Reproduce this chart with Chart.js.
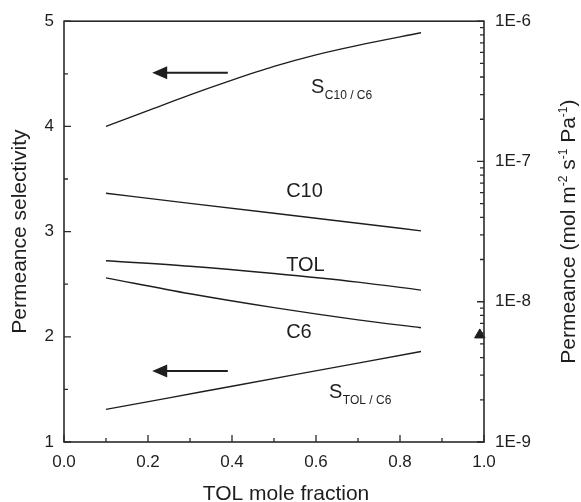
<!DOCTYPE html>
<html>
<head>
<meta charset="utf-8">
<script src="https://cdn.jsdelivr.net/npm/chart.js@4.4.0/dist/chart.umd.min.js"></script>
<style>
  html, body { margin: 0; padding: 0; background: #fff; }
  #wrap { width: 581px; height: 502px; }
</style>
</head>
<body>
<div id="wrap"><canvas id="chart"></canvas></div>
<script>
// tick labels
const xTickLabels = ["0.0", "0.2", "0.4", "0.6", "0.8", "1.0"];
const leftTickLabels = ["1", "2", "3", "4", "5"];
const rightTickLabels = ["1E-9", "1E-8", "1E-7", "1E-6"];

// selectivities (left axis)
const xSelC10 = [0.1, 0.2, 0.3, 0.4, 0.5, 0.6, 0.7, 0.85];
const selC10C6 = [4.00, 4.15, 4.30, 4.44, 4.57, 4.68, 4.77, 4.89];
const xSelTol = [0.1, 0.25, 0.4, 0.55, 0.7, 0.85];
const selTolC6 = [1.31, 1.42, 1.53, 1.64, 1.75, 1.86];

// permeances (right axis, mol m-2 s-1 Pa-1)
const xPerm = [0.1, 0.3, 0.5, 0.7, 0.85];
const permC10 = [5.93e-8, 5.03e-8, 4.27e-8, 3.63e-8, 3.2e-8];
const permTOL = [1.96e-8, 1.79e-8, 1.59e-8, 1.38e-8, 1.21e-8];
const permC6 = [1.48e-8, 1.14e-8, 9.08e-9, 7.43e-9, 6.53e-9];
const xPureTol = [0.99];
const permPureTol = [5.8e-9];

// curve labels (left-axis units)
const labelMain = ["S", "C10", "TOL", "C6", "S"];
const labelSub = ["C10 / C6", "", "", "", "TOL / C6"];
const labelX = [0.588, 0.529, 0.529, 0.529, 0.631];
const labelY = [4.316, 3.325, 2.625, 1.988, 1.418];

// arrows pointing to the left axis
const arrowFrom = [0.39, 0.39];
const arrowTo = [0.21, 0.21];
const arrowY = [4.51, 1.675];

const ink = "#1e1e1e";
const FONT = "'Liberation Sans', Arial, sans-serif";

function pts(xs, ys) {
  return xs.map((x, i) => ({ x: x, y: ys[i] }));
}

function lineSet(xs, ys, axis) {
  return {
    data: pts(xs, ys),
    yAxisID: axis,
    borderColor: ink,
    borderWidth: 1.4,
    pointRadius: 0,
    cubicInterpolationMode: "monotone",
    fill: false
  };
}

const decorPlugin = {
  id: "decor",
  afterDraw(chart) {
    const ctx = chart.ctx;
    const a = chart.chartArea;
    const xs = chart.scales.x, yl = chart.scales.y, yr = chart.scales.y2;
    ctx.save();

    // frame
    ctx.strokeStyle = "#2a2a2a";
    ctx.lineWidth = 1.6;
    ctx.strokeRect(a.left, a.top, a.right - a.left, a.bottom - a.top);

    // inward ticks
    ctx.lineWidth = 1.3;
    ctx.beginPath();
    xs.ticks.forEach(t => {
      const p = xs.getPixelForValue(t.value);
      const len = t.label ? 7 : 4;
      ctx.moveTo(p, a.bottom);
      ctx.lineTo(p, a.bottom - len);
    });
    yl.ticks.forEach(t => {
      const p = yl.getPixelForValue(t.value);
      const len = t.label ? 7 : 4;
      ctx.moveTo(a.left, p);
      ctx.lineTo(a.left + len, p);
    });
    yr.ticks.forEach(t => {
      const p = yr.getPixelForValue(t.value);
      const len = t.label ? 7 : 4;
      ctx.moveTo(a.right, p);
      ctx.lineTo(a.right - len, p);
    });
    ctx.stroke();

    // arrows
    ctx.fillStyle = ink;
    ctx.strokeStyle = ink;
    ctx.lineWidth = 2;
    arrowY.forEach((v, i) => {
      const y = yl.getPixelForValue(v);
      const x0 = xs.getPixelForValue(arrowFrom[i]);
      const x1 = xs.getPixelForValue(arrowTo[i]);
      ctx.beginPath();
      ctx.moveTo(x0, y);
      ctx.lineTo(x1 + 10, y);
      ctx.stroke();
      ctx.beginPath();
      ctx.moveTo(x1, y);
      ctx.lineTo(x1 + 15, y - 6.5);
      ctx.lineTo(x1 + 15, y + 6.5);
      ctx.closePath();
      ctx.fill();
    });

    // curve labels
    ctx.textBaseline = "alphabetic";
    ctx.textAlign = "left";
    labelMain.forEach((txt, i) => {
      const x = xs.getPixelForValue(labelX[i]);
      const y = yl.getPixelForValue(labelY[i]);
      ctx.font = "20px " + FONT;
      ctx.fillText(txt, x, y);
      if (labelSub[i]) {
        const w = ctx.measureText(txt).width;
        ctx.font = "12px " + FONT;
        ctx.fillText(labelSub[i], x + w + 0.5, y + 5.5);
      }
    });

    // x axis title (sits a bit right of the plot centre in the original)
    ctx.font = "21px " + FONT;
    ctx.textAlign = "center";
    ctx.fillText("TOL mole fraction", (a.left + a.right) / 2 + 12, 500);
    ctx.textAlign = "left";

    // right axis title, read bottom to top
    const parts = [["Permeance (mol m", 0], ["-2", 1], [" s", 0], ["-1", 1], [" Pa", 0], ["-1", 1], [")", 0]];
    let total = 0;
    parts.forEach(p => {
      ctx.font = (p[1] ? "12px " : "21px ") + FONT;
      total += ctx.measureText(p[0]).width;
    });
    ctx.translate(575, (a.top + a.bottom) / 2);
    ctx.rotate(-Math.PI / 2);
    let cx = -total / 2;
    parts.forEach(p => {
      ctx.font = (p[1] ? "12px " : "21px ") + FONT;
      ctx.fillText(p[0], cx, p[1] ? -8 : 0);
      cx += ctx.measureText(p[0]).width;
    });
    ctx.restore();
  }
};

const ctx = document.getElementById("chart").getContext("2d");
const chart = new Chart(ctx, {
  type: "line",
  data: {
    datasets: [
      lineSet(xSelC10, selC10C6, "y"),
      lineSet(xSelTol, selTolC6, "y"),
      lineSet(xPerm, permC10, "y2"),
      lineSet(xPerm, permTOL, "y2"),
      lineSet(xPerm, permC6, "y2"),
      {
        data: pts(xPureTol, permPureTol),
        yAxisID: "y2",
        showLine: false,
        pointStyle: "triangle",
        pointRadius: 6,
        pointBackgroundColor: ink,
        pointBorderColor: ink,
        pointBorderWidth: 1,
        clip: false
      }
    ]
  },
  options: {
    responsive: true,
    maintainAspectRatio: false,
    animation: false,
    events: [],
    layout: { padding: { top: 21, left: 0, right: 0, bottom: 0 } },
    plugins: {
      legend: { display: false },
      tooltip: { enabled: false }
    },
    scales: {
      x: {
        type: "linear",
        min: 0,
        max: 1,
        grid: { display: false, drawTicks: false },
        border: { display: false },
        ticks: {
          stepSize: 0.1,
          autoSkip: false,
          maxRotation: 0,
          padding: 10,
          color: ink,
          font: { family: FONT, size: 17 },
          callback: v => {
            const s = Number(v).toFixed(1);
            return xTickLabels.includes(s) ? s : "";
          }
        },
        afterFit: s => { s.height = 60; }
      },
      y: {
        type: "linear",
        position: "left",
        min: 1,
        max: 5,
        grid: { display: false, drawTicks: false },
        border: { display: false },
        ticks: {
          stepSize: 0.5,
          autoSkip: false,
          padding: 10,
          color: ink,
          font: { family: FONT, size: 17 },
          callback: v => {
            const s = String(v);
            return leftTickLabels.includes(s) ? s : "";
          }
        },
        title: {
          display: true,
          text: "Permeance selectivity",
          color: ink,
          font: { family: FONT, size: 21, lineHeight: 1.0 },
          padding: { top: 10, bottom: 0 }
        },
        afterFit: s => { s.width = 64; }
      },
      y2: {
        type: "logarithmic",
        position: "right",
        min: 1e-9,
        max: 1e-6,
        grid: { display: false, drawTicks: false },
        border: { display: false },
        afterBuildTicks: s => {
          const ticks = [];
          for (let e = -9; e < -6; e++) {
            for (let k = 1; k <= 9; k++) ticks.push({ value: k * Math.pow(10, e) });
          }
          ticks.push({ value: 1e-6 });
          s.ticks = ticks;
        },
        ticks: {
          autoSkip: false,
          padding: 11,
          color: ink,
          font: { family: FONT, size: 17 },
          callback: (v, i) => (i % 9 === 0 ? rightTickLabels[i / 9] : "")
        },
        afterFit: s => { s.width = 97; }
      }
    }
  },
  plugins: [decorPlugin]
});
</script>
</body>
</html>
